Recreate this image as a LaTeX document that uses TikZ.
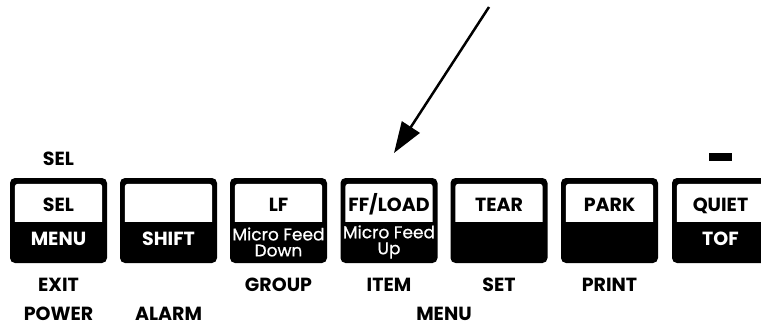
\documentclass[tikz,border=0pt]{standalone}
\usepackage{fontspec}
\setmainfont{Poppins}
\newfontfamily\feedfont{Poppins}[FakeBold=0.6]
\usetikzlibrary{arrows.meta}
\begin{document}
\begin{tikzpicture}[x=1pt,y=-1pt,
  keybox/.style={fill=black, rounded corners=5pt, minimum width=97pt, minimum height=85pt, inner sep=0pt},
  lbl/.style={font=\fontsize{19}{19}\selectfont\bfseries, inner sep=0pt, anchor=base},
  wlbl/.style={lbl, text=white},
  feed/.style={font=\feedfont\fontsize{17}{16}\selectfont, text=white, align=center, inner sep=0pt},
  pointer/.style={line width=2.5pt, -{Triangle[length=31pt,width=21pt]}}
]
\useasboundingbox (0,0) rectangle (761,329);
\clip (0,0) rectangle (761,329);
% keys
\foreach \n/\x in {1/58.5,2/168.5,3/278.5,4/389,5/499,6/609.5,7/720.5}{
  \node[keybox] (k\n) at (\x,220.5) {};
  \fill[white] ([xshift=5pt,yshift=-44pt]k\n.north west) [rounded corners=3pt]
     -- ([xshift=5pt,yshift=-6pt]k\n.north west)
     -- ([xshift=-5pt,yshift=-6pt]k\n.north east) [sharp corners]
     -- ([xshift=-5pt,yshift=-44pt]k\n.north east) -- cycle;
}
% labels on keys (white area)
\node[lbl] (t1) at (58.5,211) {SEL};
\node[lbl] (t3) at (278.5,211) {LF};
\node[lbl] (t4) at (389,211) {FF/LOAD};
\node[lbl] (t5) at (499,211) {TEAR};
\node[lbl] (t6) at (609.5,211) {PARK};
\node[lbl] (t7) at (720.5,211) {QUIET};
% labels on keys (black area)
\node[wlbl] (b1) at (58.5,245) {MENU};
\node[wlbl] (b2) at (168.5,245) {SHIFT};
\node[feed] (b3) at (278.5,242) {Micro Feed\\Down};
\node[feed] (b4) at (389,242) {Micro Feed\\Up};
\node[wlbl] (b7) at (720.5,245) {TOF};
% labels above
\node[lbl] (sel) at (58.5,165) {SEL};
\node[fill=black, minimum width=23pt, minimum height=8pt, inner sep=0pt] (dash) at (720,157) {};
% labels below
\node[lbl] (exit) at (58.5,291.5) {EXIT};
\node[lbl] (group) at (278.5,291.5) {GROUP};
\node[lbl] (item) at (389,291.5) {ITEM};
\node[lbl] (set) at (499,291.5) {SET};
\node[lbl] (print) at (609.5,291.5) {PRINT};
\node[lbl] (power) at (58.5,320) {POWER};
\node[lbl] (alarm) at (168.5,320) {ALARM};
\node[lbl] (menu) at (444,320) {MENU};
% pointer arrow
\coordinate (ps) at (489,7);
\coordinate (pt) at (394,153);
\draw[pointer] (ps) -- (pt);
\end{tikzpicture}
\end{document}
